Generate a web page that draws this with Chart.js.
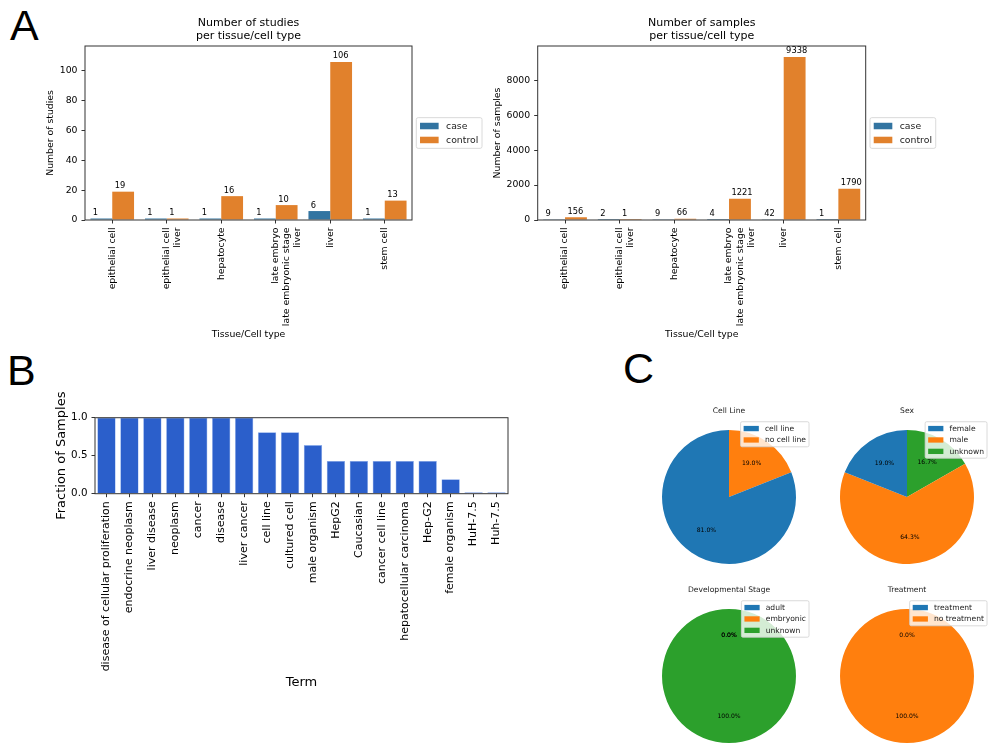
<!DOCTYPE html>
<html>
<head>
<meta charset="utf-8">
<script src="https://cdn.jsdelivr.net/npm/chart.js@4.4.1/dist/chart.umd.min.js"></script>
<style>
  html, body { margin: 0; padding: 0; background: #fff; }
  #fig { position: relative; width: 1000px; height: 749px; overflow: hidden; }
  #fig canvas { position: absolute; }
  .panel { position: absolute; font-family: "Liberation Sans", Arial, sans-serif; font-size: 43px; line-height: 1; color: #000; }
</style>
</head>
<body>
<div id="fig">
  <div class="panel" style="left:10px;top:4px">A</div>
  <div class="panel" style="left:7px;top:349px">B</div>
  <div class="panel" style="left:623px;top:347px">C</div>

  <canvas id="c-studies" width="490" height="345" style="left:0;top:0"></canvas>
  <canvas id="c-samples" width="510" height="345" style="left:490px;top:0"></canvas>
  <canvas id="c-terms" width="620" height="320" style="left:0;top:380px"></canvas>
  <canvas id="c-cellline" width="180" height="175" style="left:640px;top:395px"></canvas>
  <canvas id="c-sex" width="180" height="175" style="left:818px;top:395px"></canvas>
  <canvas id="c-stage" width="180" height="175" style="left:640px;top:574px"></canvas>
  <canvas id="c-treatment" width="180" height="175" style="left:818px;top:574px"></canvas>
</div>
<script>
'use strict';
// ---- data ----
const tissueLabels = [
  ['epithelial cell'],
  ['epithelial cell', 'liver'],
  ['hepatocyte'],
  ['late embryo', 'late embryonic stage', 'liver'],
  ['liver'],
  ['stem cell'],
];
const studiesCase    = [1, 1, 1, 1, 6, 1];
const studiesControl = [19, 1, 16, 10, 106, 13];
const studiesTicks   = [0, 20, 40, 60, 80, 100];

const samplesCase    = [9, 2, 9, 4, 42, 1];
const samplesControl = [156, 1, 66, 1221, 9338, 1790];
const samplesTicks   = [0, 2000, 4000, 6000, 8000];

const termLabels = [
  'disease of cellular proliferation', 'endocrine neoplasm', 'liver disease', 'neoplasm',
  'cancer', 'disease', 'liver cancer', 'cell line', 'cultured cell', 'male organism',
  'HepG2', 'Caucasian', 'cancer cell line', 'hepatocellular carcinoma', 'Hep-G2',
  'female organism', 'HuH-7.5', 'Huh-7.5',
];
const termFractions = [1, 1, 1, 1, 1, 1, 1, 0.81, 0.81, 0.64, 0.43, 0.43, 0.43, 0.43, 0.43, 0.19, 0.02, 0.02];
const fractionTicks = [0, 0.5, 1.0];

const cellLineLabels  = ['cell line', 'no cell line'];
const cellLineValues  = [81.0, 19.0];
const sexLabels       = ['female', 'male', 'unknown'];
const sexValues       = [19.0, 64.3, 16.7];
const stageLabels     = ['adult', 'embryonic', 'unknown'];
const stageValues     = [0, 0, 100];
const treatmentLabels = ['treatment', 'no treatment'];
const treatmentValues = [0, 100];

const CASE_COL = '#3274a1';
const CTRL_COL = '#e1812c';
const TERM_COL = '#2b5fcb';
const PIE_COLS = ['#1f77b4', '#ff7f0e', '#2ca02c'];

Chart.defaults.font.family = '"DejaVu Sans", sans-serif';
Chart.defaults.color = '#000';

// ---- plugins ----
const frameBox = {
  id: 'frameBox',
  afterDatasetsDraw(chart) {
    const a = chart.chartArea, ctx = chart.ctx;
    ctx.save();
    ctx.strokeStyle = '#333';
    ctx.lineWidth = 1;
    ctx.strokeRect(a.left, a.top, a.right - a.left, a.bottom - a.top);
    ctx.restore();
  }
};

const barValues = {
  id: 'barValues',
  afterDatasetsDraw(chart, args, o) {
    const ctx = chart.ctx;
    ctx.save();
    ctx.font = o.size + 'px "DejaVu Sans"';
    ctx.fillStyle = '#000';
    ctx.textAlign = 'left';
    ctx.textBaseline = 'bottom';
    chart.data.datasets.forEach((ds, i) => {
      chart.getDatasetMeta(i).data.forEach((bar, j) => {
        ctx.fillText(String(ds.data[j]), bar.x - bar.width / 2 + o.dx, bar.y - o.dy);
      });
    });
    ctx.restore();
  }
};

// matplotlib-like framed legend
const mplLegend = {
  id: 'mplLegend',
  afterDraw(chart, args, o) {
    let items;
    if (o.fromLabels) {
      const ds = chart.data.datasets[0];
      items = chart.data.labels.map((l, i) => ({ text: l, color: ds.backgroundColor[i] }));
      if (o.reverse) items.reverse();
    } else {
      items = chart.data.datasets.map(d => ({ text: d.label, color: d.backgroundColor }));
    }
    const ctx = chart.ctx, fs = o.size, a = chart.chartArea;
    ctx.save();
    ctx.font = fs + 'px "DejaVu Sans"';
    const pad = 0.4 * fs, rowH = fs, gap = 0.5 * fs, hw = 2 * fs, hh = 0.7 * fs, tp = 0.8 * fs;
    const tw = Math.max(...items.map(it => ctx.measureText(it.text).width));
    const w = 2 * pad + hw + tp + tw;
    const h = 2 * pad + items.length * rowH + (items.length - 1) * gap;
    let x, y;
    if (o.anchor === 'right') {
      x = a.right + o.dx;
      y = (a.top + a.bottom) / 2 - h / 2;
    } else {
      x = a.right + o.dx - w;
      y = a.top + o.dy;
    }
    ctx.beginPath();
    ctx.roundRect(x, y, w, h, 0.2 * fs);
    ctx.fillStyle = 'rgba(255,255,255,0.8)';
    ctx.fill();
    ctx.strokeStyle = '#d0d0d0';
    ctx.lineWidth = 0.8;
    ctx.stroke();
    ctx.textBaseline = 'middle';
    items.forEach((it, i) => {
      const cy = y + pad + i * (rowH + gap) + rowH / 2;
      ctx.fillStyle = it.color;
      ctx.fillRect(x + pad, cy - hh / 2, hw, hh);
      ctx.fillStyle = '#222';
      ctx.fillText(it.text, x + pad + hw + tp, cy + 0.5);
    });
    ctx.restore();
  }
};

const pieLabels = {
  id: 'pieLabels',
  afterDatasetsDraw(chart, args, o) {
    const ctx = chart.ctx, ds = chart.data.datasets[0];
    const total = ds.data.reduce((s, v) => s + v, 0);
    ctx.save();
    ctx.font = o.size + 'px "DejaVu Sans"';
    ctx.fillStyle = '#000';
    ctx.textAlign = 'center';
    ctx.textBaseline = 'middle';
    chart.getDatasetMeta(0).data.forEach((arc, i) => {
      const mid = (arc.startAngle + arc.endAngle) / 2;
      const r = arc.outerRadius * 0.6;
      const txt = (ds.data[i] / total * 100).toFixed(1) + '%';
      ctx.fillText(txt, arc.x + Math.cos(mid) * r, arc.y + Math.sin(mid) * r);
    });
    ctx.restore();
  }
};

// ---- grouped bar charts (panel A) ----
function tickAxis(extra) {
  return Object.assign({
    grid: { drawOnChartArea: false, drawTicks: true, tickLength: 3.5, color: '#333', offset: false },
    border: { display: false },
  }, extra);
}

function groupedBar(id, opt) {
  return new Chart(document.getElementById(id), {
    type: 'bar',
    data: {
      labels: tissueLabels,
      datasets: [
        { label: 'case', data: opt.caseData, backgroundColor: CASE_COL, categoryPercentage: 0.8, barPercentage: 1 },
        { label: 'control', data: opt.controlData, backgroundColor: CTRL_COL, categoryPercentage: 0.8, barPercentage: 1 },
      ],
    },
    plugins: [frameBox, barValues, mplLegend],
    options: {
      responsive: false, animation: false, events: [],
      layout: { padding: { left: 0, top: 0, right: opt.padRight, bottom: 0 } },
      plugins: {
        legend: { display: false },
        tooltip: { enabled: false },
        title: {
          display: true, fullSize: false, text: opt.title, color: '#000',
          font: { size: 11, weight: 'normal' }, padding: { top: 16.4, bottom: 3.2 },
        },
        barValues: { size: 8.3, dx: 2.4, dy: 1.5 },
        mplLegend: { size: 9.3, anchor: 'right', dx: 4.3 },
      },
      scales: {
        x: tickAxis({
          ticks: { minRotation: 90, maxRotation: 90, autoSkip: false, padding: 4, font: { size: 9.3 } },
          title: { display: true, text: 'Tissue/Cell type', font: { size: 9.3 }, padding: { top: 0, bottom: 4.4 } },
          afterFit: s => { s.height = 125; },
        }),
        y: tickAxis({
          min: 0, max: opt.max,
          ticks: { padding: 4, font: { size: 9.3 }, callback: v => String(v) },
          afterBuildTicks: s => { s.ticks = opt.ticks.map(v => ({ value: v })); },
          title: { display: true, text: opt.yTitle, font: { size: 9.3 }, padding: { top: opt.yTitlePad, bottom: 0 } },
          afterFit: s => { s.width = opt.yWidth; },
        }),
      },
    },
  });
}

groupedBar('c-studies', {
  caseData: studiesCase, controlData: studiesControl, ticks: studiesTicks, max: 116.7,
  title: ['Number of studies', 'per tissue/cell type'], yTitle: 'Number of studies',
  yTitlePad: 45.1, yWidth: 85, padRight: 78,
});
groupedBar('c-samples', {
  caseData: samplesCase, controlData: samplesControl, ticks: samplesTicks, max: 9966,
  title: ['Number of samples', 'per tissue/cell type'], yTitle: 'Number of samples',
  yTitlePad: 2.1, yWidth: 47.7, padRight: 134.3,
});

// ---- panel B ----
new Chart(document.getElementById('c-terms'), {
  type: 'bar',
  data: {
    labels: termLabels,
    datasets: [{
      data: termFractions, backgroundColor: TERM_COL, borderColor: '#8fb0ee', borderWidth: 0.6,
      categoryPercentage: 0.8, barPercentage: 1,
    }],
  },
  plugins: [frameBox],
  options: {
    responsive: false, animation: false, events: [],
    layout: { padding: { left: 0, top: 37.7, right: 112, bottom: 0 } },
    plugins: { legend: { display: false }, tooltip: { enabled: false } },
    scales: {
      x: tickAxis({
        ticks: { minRotation: 90, maxRotation: 90, autoSkip: false, padding: 4, font: { size: 11 } },
        title: { display: true, text: 'Term', font: { size: 13 }, padding: { top: 0, bottom: 9.9 } },
        afterFit: s => { s.height = 206.3; },
      }),
      y: tickAxis({
        min: 0, max: 1,
        ticks: { padding: 4, font: { size: 10.3 }, callback: v => Number(v).toFixed(1) },
        afterBuildTicks: s => { s.ticks = fractionTicks.map(v => ({ value: v })); },
        title: { display: true, text: 'Fraction of Samples', font: { size: 13 }, padding: { top: 53.9, bottom: 0 } },
        afterFit: s => { s.width = 95; },
      }),
    },
  },
});

// ---- panel C pies (drawn counter-clockwise from 12 o'clock like matplotlib) ----
function pie(id, title, labels, values) {
  const cols = PIE_COLS.slice(0, labels.length);
  return new Chart(document.getElementById(id), {
    type: 'pie',
    data: {
      labels: labels.slice().reverse(),
      datasets: [{
        data: values.slice().reverse(), backgroundColor: cols.slice().reverse(),
        borderWidth: 0, hoverOffset: 0,
      }],
    },
    plugins: [pieLabels, mplLegend],
    options: {
      responsive: false, animation: false, events: [],
      layout: { padding: { left: 22, right: 24, top: 0, bottom: 6 } },
      plugins: {
        legend: { display: false },
        tooltip: { enabled: false },
        title: {
          display: true, fullSize: false, text: title, color: '#222',
          font: { size: 7.6, weight: 'normal' }, padding: { top: 11.4, bottom: 14.5 },
        },
        pieLabels: { size: 6.1 },
        mplLegend: { size: 7.6, anchor: 'upperRight', dx: 13, dy: -8.3, fromLabels: true, reverse: true },
      },
    },
  });
}

pie('c-cellline', 'Cell Line', cellLineLabels, cellLineValues);
pie('c-sex', 'Sex', sexLabels, sexValues);
pie('c-stage', 'Developmental Stage', stageLabels, stageValues);
pie('c-treatment', 'Treatment', treatmentLabels, treatmentValues);
</script>
</body>
</html>
